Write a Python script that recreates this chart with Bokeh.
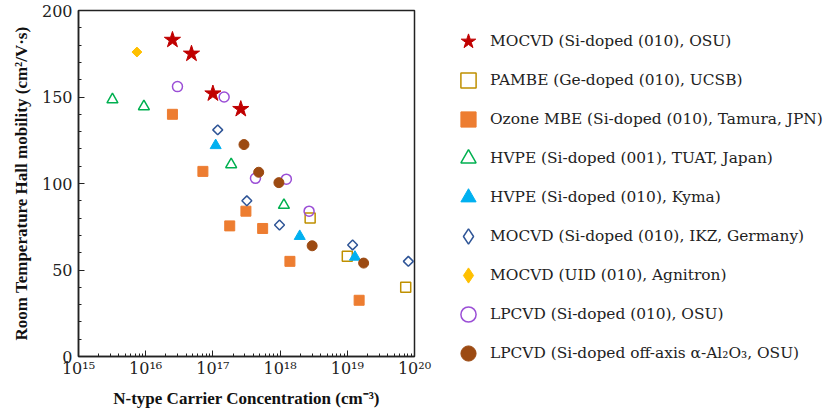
import numpy as np
from bokeh.plotting import figure
from bokeh.models import Range1d, SingleIntervalTicker, Legend, LegendItem
from bokeh.embed import file_html
from bokeh.resources import INLINE

# ---- data (carrier concentration in cm^-3, mobility in cm^2/Vs) ----
mocvd_osu_n = [2.5e16, 4.8e16, 1.0e17, 2.6e17]
mocvd_osu_mu = [183, 175, 152, 143]

pambe_n = [2.8e18, 1.0e19, 7.4e19]
pambe_mu = [80, 58, 40]

ozone_n = [2.5e16, 7.1e16, 1.78e17, 3.1e17, 5.5e17, 1.4e18, 1.5e19]
ozone_mu = [140, 107, 75.5, 84, 74, 55, 32.5]

hvpe_tuat_n = [3.2e15, 9.4e15, 1.87e17, 1.14e18]
hvpe_tuat_mu = [148.5, 144.5, 111, 87.5]

hvpe_kyma_n = [1.1e17, 1.96e18, 1.3e19]
hvpe_kyma_mu = [122, 69.5, 57.5]

mocvd_ikz_n = [1.18e17, 3.2e17, 9.8e17, 1.2e19, 8.1e19]
mocvd_ikz_mu = [131, 90, 76, 64.5, 55]

mocvd_agn_n = [7.4e15]
mocvd_agn_mu = [176]

lpcvd_osu_n = [2.97e16, 1.47e17, 4.3e17, 1.24e18, 2.7e18]
lpcvd_osu_mu = [156, 150, 103, 102.5, 84]

lpcvd_al_n = [2.9e17, 4.8e17, 9.6e17, 3.0e18, 1.75e19]
lpcvd_al_mu = [122.5, 106.5, 100.5, 64, 54]

labels = [
    "MOCVD (Si-doped (010), OSU)",
    "PAMBE (Ge-doped (010), UCSB)",
    "Ozone MBE (Si-doped (010), Tamura, JPN)",
    "HVPE (Si-doped (001), TUAT, Japan)",
    "HVPE (Si-doped (010), Kyma)",
    "MOCVD (Si-doped (010), IKZ, Germany)",
    "MOCVD (UID (010), Agnitron)",
    "LPCVD (Si-doped (010), OSU)",
    "LPCVD (Si-doped off-axis \u03b1-Al\u2082O\u2083, OSU)",
]

x_tick_values = [1e15, 1e16, 1e17, 1e18, 1e19, 1e20]
x_tick_labels = ["10\u00b9\u2075", "10\u00b9\u2076", "10\u00b9\u2077",
                 "10\u00b9\u2078", "10\u00b9\u2079", "10\u00b2\u2070"]

SERIF = "Liberation Serif"
TEXTFONT = "DejaVu Serif"

p = figure(frame_width=336, frame_height=346, x_axis_type="log",
           x_range=Range1d(1e15, 1e20), y_range=Range1d(0, 200),
           output_backend="svg", toolbar_location=None,
           min_border_left=78, min_border_right=0,
           min_border_top=10, min_border_bottom=53)

p.xgrid.visible = False
p.ygrid.visible = False
p.outline_line_color = "#222222"
p.outline_line_width = 1.5
p.background_fill_color = "white"
p.border_fill_color = "white"

p.yaxis.ticker = SingleIntervalTicker(interval=50, num_minor_ticks=5)
p.xaxis.major_label_overrides = dict(zip(x_tick_values, x_tick_labels))

for ax in (p.xaxis, p.yaxis):
    ax.axis_line_color = "#222222"
    ax.axis_line_width = 1.5
    ax.major_tick_in = 6
    ax.major_tick_out = 0
    ax.minor_tick_in = 3
    ax.minor_tick_out = 0
    ax.major_tick_line_color = "#222222"
    ax.minor_tick_line_color = "#222222"
    ax.major_label_text_font = TEXTFONT
    ax.major_label_text_font_size = "16px"
    ax.major_label_text_color = "#222222"
    ax.axis_label_text_font = SERIF
    ax.axis_label_text_font_style = "bold"
    ax.axis_label_text_font_size = "17px"
    ax.axis_label_text_color = "#111111"

p.xaxis.axis_label = "N-type Carrier Concentration (cm\u207b\u00b3)"
p.yaxis.axis_label = "Room Temperature Hall mobility (cm\u00b2/V\u00b7s)"
p.xaxis.major_label_standoff = 2
p.yaxis.major_label_standoff = 6
p.xaxis.axis_label_standoff = 8
p.yaxis.axis_label_standoff = 8

scatter_kw = [
    (mocvd_osu_n, mocvd_osu_mu, dict(marker="star", size=17, fill_color="#C00000",
                                      line_color="#C00000")),
    (pambe_n, pambe_mu, dict(marker="square", size=10, fill_color=None,
                              line_color="#BF9000", line_width=1.5)),
    (ozone_n, ozone_mu, dict(marker="square", size=10, fill_color="#ED7D31",
                              line_color="#ED7D31")),
    (hvpe_tuat_n, hvpe_tuat_mu, dict(marker="triangle", size=11, fill_color=None,
                                      line_color="#00B050", line_width=1.5)),
    (hvpe_kyma_n, hvpe_kyma_mu, dict(marker="triangle", size=11, fill_color="#00B0F0",
                                      line_color="#00B0F0")),
    (mocvd_ikz_n, mocvd_ikz_mu, dict(marker="square", size=7, angle=np.pi / 4,
                                      fill_color=None, line_color="#2F5597",
                                      line_width=1.5)),
    (mocvd_agn_n, mocvd_agn_mu, dict(marker="square", size=7, angle=np.pi / 4,
                                      fill_color="#FFC000", line_color="#FFC000")),
    (lpcvd_osu_n, lpcvd_osu_mu, dict(marker="circle", size=10, fill_color=None,
                                      line_color="#9B4FD6", line_width=1.5)),
    (lpcvd_al_n, lpcvd_al_mu, dict(marker="circle", size=10, fill_color="#9C4A12",
                                    line_color="#9C4A12")),
]

items = []
for lab, (xs, ys, kw) in zip(labels, scatter_kw):
    r = p.scatter(xs, ys, **kw)
    if kw.get("angle"):
        # legend glyphs ignore rotation: use a hidden diamond twin for the legend
        lkw = {k: v for k, v in kw.items() if k not in ("angle", "marker")}
        lr = p.scatter(xs, ys, marker="diamond", visible=False, **lkw)
        items.append(LegendItem(label=lab, renderers=[lr]))
    else:
        items.append(LegendItem(label=lab, renderers=[r]))

legend = Legend(items=items, location=(35, -16), orientation="vertical")
legend.border_line_color = None
legend.background_fill_alpha = 0
legend.inactive_fill_alpha = 0
legend.padding = 0
legend.margin = 0
legend.spacing = 1
legend.glyph_width = 38
legend.glyph_height = 38
legend.label_height = 38
legend.label_standoff = 3
legend.label_text_font = TEXTFONT
legend.label_text_font_size = "15.4px"
legend.label_text_color = "#222222"
legend.label_text_baseline = "middle"
p.add_layout(legend, "right")

open("out.html", "w").write(file_html(p, INLINE))
